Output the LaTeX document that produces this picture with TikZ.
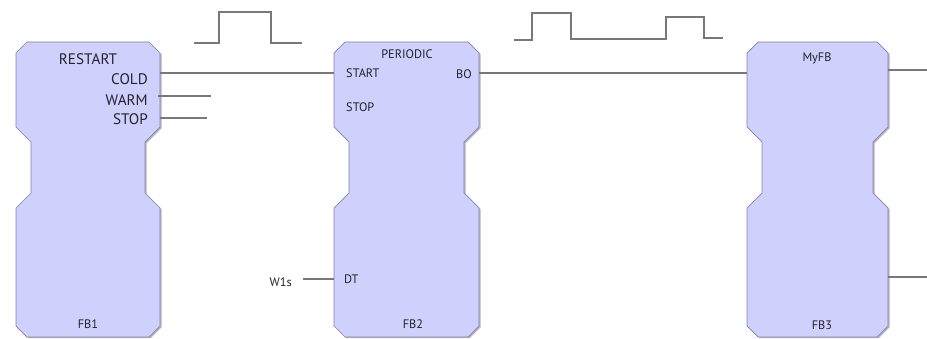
\documentclass[tikz,border=0pt]{standalone}
\usepackage{fontspec}
\setmainfont{PT Sans}
\usetikzlibrary{positioning}
\definecolor{fbfill}{RGB}{208,208,252}
\definecolor{fbrand}{RGB}{128,128,180}
\definecolor{fbschatten}{RGB}{90,90,110}
\definecolor{leitung}{RGB}{120,120,120}
\definecolor{schrift}{RGB}{35,35,45}

% Umriss eines Funktionsbausteins, #1 = linker Rand, #2 = rechter Rand
\newcommand{\fbblock}[2]{%
  \fill[fbschatten, opacity=0.45, shift={(1.6,1.2)}] (#1,53) -- (#1+11,42) -- (#2-11,42) -- (#2,53) -- (#2,127) -- (#2-15,142) -- (#2-15,193) -- (#2,208) -- (#2,326) -- (#2-11,337) -- (#1+11,337) -- (#1,326) -- (#1,208) -- (#1+15,193) -- (#1+15,142) -- (#1,127) -- cycle;
  \draw[fbblock] (#1,53) -- (#1+11,42) -- (#2-11,42) -- (#2,53) -- (#2,127) -- (#2-15,142) -- (#2-15,193) -- (#2,208) -- (#2,326) -- (#2-11,337) -- (#1+11,337) -- (#1,326) -- (#1,208) -- (#1+15,193) -- (#1+15,142) -- (#1,127) -- cycle;}

\begin{document}
\begin{tikzpicture}[x=0.03cm, y=-0.03cm,
	fbblock/.style={fill=fbfill, draw=fbrand, line width=0.6pt, line join=round},
	gross/.style={text=schrift, font=\fontsize{13}{14}\selectfont, inner sep=0pt},
	klein/.style={text=schrift, font=\fontsize{10.5}{12}\selectfont, inner sep=0pt},
	draht/.style={leitung, line width=1.2pt},
	puls/.style={leitung, line width=1.6pt}]

	\useasboundingbox (0,0) rectangle (927,339);

	% Baustein FB1
	\fbblock{16}{160}
	\node[gross] (restart) at (88,59) {RESTART};
	\node[gross, anchor=east] (cold) at (148,79) {COLD};
	\node[gross, anchor=east] (warm) at (148,100) {WARM};
	\node[gross, anchor=east] (stop1) at (148,119) {STOP};
	\node[klein] (fb1) at (88,324) {FB1};
	\coordinate (FB1cold) at (160,73);
	\coordinate (FB1warm) at (158,96);
	\coordinate (FB1stop) at (160,118);
	\coordinate (warmEnde) at (211,96);
	\coordinate (stopEnde) at (207,118);

	% Baustein FB2
	\fbblock{334}{479}
	\node[klein] (periodic) at (407,54) {PERIODIC};
	\node[klein, anchor=west] (start) at (346,73) {START};
	\node[klein, anchor=west] (stop2) at (346,107) {STOP};
	\node[klein, anchor=west] (dt) at (344,279) {DT};
	\node[klein, anchor=east] (bo) at (472,74) {BO};
	\node[klein] (fb2) at (413,324) {FB2};
	\node[klein, anchor=east] (w1s) at (292,282) {W1s};
	\coordinate (FB2start) at (334,73);
	\coordinate (FB2dt) at (334,279);
	\coordinate (FB2bo) at (479,73);

	% Baustein FB3
	\fbblock{747}{888}
	\node[klein] (myfb) at (817,58) {MyFB};
	\node[klein] (fb3) at (822,325) {FB3};
	\coordinate (FB3ein) at (747,73);
	\coordinate (FB3aus1) at (888,70);
	\coordinate (FB3aus2) at (888,277);
	\coordinate (aus1Ende) at (927,70);
	\coordinate (aus2Ende) at (927,277);

	% Verbindungen
	\draw[draht] (FB1cold) -- (FB2start);
	\draw[draht] (FB1warm) -- (warmEnde);
	\draw[draht] (FB1stop) -- (stopEnde);
	\draw[draht] (w1s.east) ++(11,-3) -- (FB2dt);
	\draw[draht] (FB2bo) -- (FB3ein);
	\draw[draht] (FB3aus1) -- (aus1Ende);
	\draw[draht] (FB3aus2) -- (aus2Ende);

	% Impulse
	\draw[puls] (194,43) -- (219,43) -- (219,12) -- (271,12) -- (271,43) -- (302,43);
	\draw[puls] (514,40) -- (532,40) -- (532,13) -- (571,13) -- (571,39) -- (666,39) -- (666,17) -- (704,17) -- (704,38) -- (723,38);

\end{tikzpicture}
\end{document}
